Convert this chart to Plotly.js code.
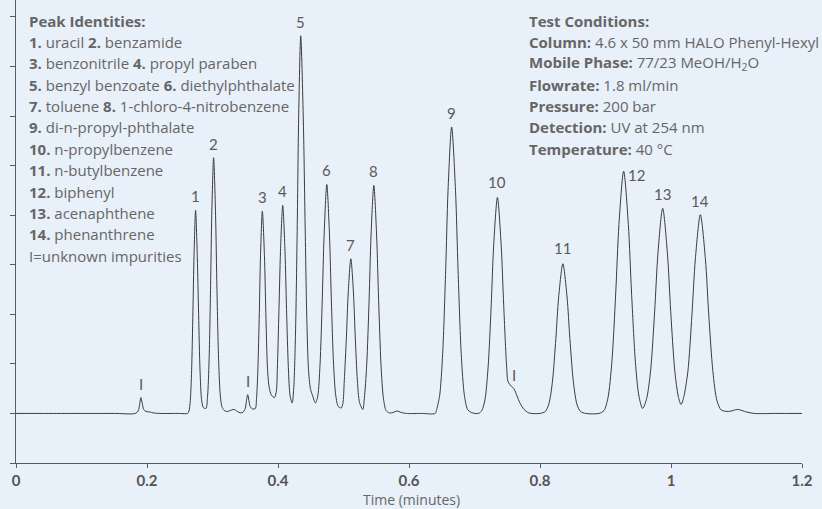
<!DOCTYPE html>
<html>
<head>
<meta charset="utf-8">
<script src="https://cdn.plot.ly/plotly-3.0.1.min.js"></script>
<style>
html,body{margin:0;padding:0;background:#e8f0f9;}
#chart{width:822px;height:509px;}
</style>
</head>
<body>
<div id="chart"></div>
<script>
// Chromatogram trace: time (minutes) and detector signal
var timeMin = [
0.000,0.050,0.100,0.150,0.182,
0.1865,0.1890,0.1907,0.1925,0.1950,0.1985,0.2040,0.2100,0.2200,0.2500,0.2620,
0.2641,0.2661,0.2681,0.2701,0.2718,0.2742,0.2768,0.2788,0.2810,0.2833,0.2860,0.2900,
0.2925,0.2948,0.2971,0.2989,0.3017,0.3047,0.3068,0.3094,0.3120,0.3148,0.3190,0.3230,0.3290,0.3330,0.3380,0.3430,
0.3470,0.3500,0.3518,0.3537,0.3556,0.3575,0.3610,0.3654,
0.3672,0.3692,0.3715,0.3733,0.3761,0.3793,0.3814,0.3840,0.3866,0.3900,0.3945,
0.3975,0.3990,0.4015,0.4038,0.4072,0.4107,0.4130,0.4158,0.4185,0.4216,
0.4240,0.4267,0.4294,0.4315,0.4347,0.4387,0.4414,0.4440,0.4465,0.4495,0.4530,0.4572,
0.4607,0.4641,0.4676,0.4704,0.4745,0.4786,0.4814,0.4849,0.4883,0.4920,0.4965,
0.4990,0.5012,0.5045,0.5072,0.5112,0.5152,0.5179,0.5212,0.5245,0.5295,
0.5318,0.5354,0.5391,0.5420,0.5463,0.5506,0.5536,0.5573,0.5610,0.5650,0.5700,0.5760,0.5817,0.5880,0.5960,0.6200,0.6400,
0.6422,0.6468,0.6514,0.6560,0.6596,0.6651,0.6710,0.6749,0.6797,0.6846,0.6895,0.6950,0.7060,
0.7111,0.7159,0.7207,0.7255,0.7293,0.7350,0.7407,0.7446,0.7490,0.7510,0.7540,0.7600,0.7650,0.7690,0.7757,0.7830,0.8000,
0.8081,0.8135,0.8189,0.8242,0.8285,0.8349,0.8413,0.8456,0.8510,0.8563,0.8617,0.8700,0.8900,
0.8977,0.9037,0.9097,0.9157,0.9205,0.9277,0.9349,0.9397,0.9457,0.9510,0.9567,
0.9628,0.9689,0.9751,0.9800,0.9873,0.9946,0.9995,1.0057,1.0110,1.0153,
1.0193,1.0257,1.0320,1.0372,1.0448,1.0525,1.0576,1.0640,1.0703,1.0767,1.0880,1.1020,1.1150,1.1270,1.1600,1.2000
];
var signal = [
1.00,1.00,1.00,1.00,1.00,
1.05,1.20,1.32,1.22,1.08,1.04,1.03,1.01,1.00,1.00,1.00,
1.05,1.26,1.86,3.05,4.19,5.10,4.15,3.00,1.85,1.28,1.12,1.10,
1.35,2.08,3.58,5.02,6.16,5.00,3.50,2.05,1.35,1.12,1.05,1.04,1.07,1.08,1.04,1.01,
1.03,1.10,1.25,1.38,1.26,1.14,1.09,1.10,
1.30,1.86,3.04,4.18,5.08,4.18,3.04,1.90,1.52,1.37,1.32,
1.45,1.90,3.10,4.27,5.20,4.27,3.10,1.93,1.35,1.21,
1.50,2.60,4.81,6.94,8.62,6.90,4.80,2.90,1.90,1.50,1.35,1.21,
1.35,1.97,3.31,4.60,5.62,4.60,3.31,1.97,1.35,1.14,1.11,
1.20,1.66,2.56,3.43,4.12,3.43,2.56,1.66,1.22,1.08,
1.30,1.97,3.30,4.58,5.60,4.58,3.30,1.97,1.30,1.06,1.01,1.02,1.05,1.02,1.00,1.00,1.00,
1.08,1.36,2.21,3.89,5.50,6.78,5.50,3.89,2.21,1.36,1.08,1.02,1.00,
1.06,1.27,1.92,3.18,4.40,5.36,4.40,3.18,1.95,1.65,1.58,1.50,1.35,1.22,1.08,1.01,1.00,
1.04,1.19,1.63,2.51,3.35,4.02,3.35,2.51,1.63,1.19,1.04,1.00,1.00,
1.06,1.31,2.03,3.45,4.81,5.89,4.81,3.45,2.03,1.35,1.10,
1.30,1.87,3.07,4.22,5.14,4.22,3.07,1.87,1.35,1.18,
1.32,1.84,3.00,4.12,5.01,4.12,3.00,1.84,1.25,1.07,1.04,1.08,1.03,1.00,1.00,1.00
];

// Peak labels (text, time of peak, signal at label anchor)
var peakLabels = ['I','1','2','I','3','4','5','6','7','8','9','10','I','11','12','13','14'];
var peakTimes  = [0.1907,0.2742,0.3017,0.3537,0.3761,0.4072,0.4347,0.4745,0.5112,0.5463,0.6651,0.7350,0.7600,0.8349,0.9277,0.9873,1.0448];
var peakTops   = [1.32,5.10,6.16,1.38,5.08,5.20,8.62,5.62,4.12,5.60,6.78,5.36,1.50,4.02,5.89,5.14,5.01];

// Axis tick values and labels
var xTickVals = [0,0.2,0.4,0.6,0.8,1.0,1.2];
var xTickText = ['0','0.2','0.4','0.6','0.8','1','1.2'];
var yTickVals = [0,1,2,3,4,5,6,7,8,9];

// Text blocks
var peakIdentities = [
  '<b>Peak Identities:</b>',
  '<b>1.</b> uracil <b>2.</b> benzamide',
  '<b>3.</b> benzonitrile <b>4.</b> propyl paraben',
  '<b>5.</b> benzyl benzoate <b>6.</b> diethylphthalate',
  '<b>7.</b> toluene <b>8.</b> 1-chloro-4-nitrobenzene',
  '<b>9.</b> di-n-propyl-phthalate',
  '<b>10.</b> n-propylbenzene',
  '<b>11.</b> n-butylbenzene',
  '<b>12.</b> biphenyl',
  '<b>13.</b> acenaphthene',
  '<b>14.</b> phenanthrene',
  'I=unknown impurities'
];
var testConditions = [
  '<b>Test Conditions:</b>',
  '<b>Column:</b> 4.6 x 50 mm HALO Phenyl-Hexyl',
  '<b>Mobile Phase:</b> 77/23 MeOH/H<sub>2</sub>O',
  '<b>Flowrate:</b> 1.8 ml/min',
  '<b>Pressure:</b> 200 bar',
  '<b>Detection:</b> UV at 254 nm',
  '<b>Temperature:</b> 40 °C'
];
var xAxisTitle = 'Time (minutes)';

var W = 822, H = 509;
var M = {l:16, r:20, t:0, b:46};
var plotW = W - M.l - M.r, plotH = H - M.t - M.b;
function pxX(px){ return (px - M.l) / plotW; }
function pxY(py){ return (H - M.b - py) / plotH; }

var FONT = '"Open Sans", Lato, sans-serif';
var LFONT = 'Lato, "Open Sans", sans-serif';
var annotations = [];

peakLabels.forEach(function(lbl, i){
  var a = {
    x: peakTimes[i], y: peakTops[i], xref:'x', yref:'y',
    text: lbl, showarrow:false,
    xanchor:'center', yanchor:'middle',
    yshift: 14,
    font:{family:LFONT, size:15, color:'#5a5a5a'}
  };
  if (lbl === '12') { a.xshift = 13; a.yshift = -4; }
  if (lbl === '11') { a.yshift = 16; }
  if (lbl === '10') { a.yshift = 15; }
  annotations.push(a);
});

var lineStep = 21.35;
peakIdentities.forEach(function(t, i){
  annotations.push({
    x: pxX(27), y: pxY(20.7 + i*lineStep), xref:'paper', yref:'paper',
    text: t, showarrow:false, xanchor:'left', yanchor:'middle', align:'left',
    font:{family:FONT, size:15, color:'#666666'}
  });
});
testConditions.forEach(function(t, i){
  annotations.push({
    x: pxX(527), y: pxY(20.7 + i*lineStep), xref:'paper', yref:'paper',
    text: t, showarrow:false, xanchor:'left', yanchor:'middle', align:'left',
    font:{family:FONT, size:15, color:'#666666'}
  });
});
// x-axis title placed precisely under the tick labels
annotations.push({
  x: pxX(411), y: pxY(499), xref:'paper', yref:'paper',
  text: xAxisTitle, showarrow:false, xanchor:'center', yanchor:'middle',
  font:{family:FONT, size:14, color:'#666666'}
});

var trace = {
  x: timeMin, y: signal, type:'scatter', mode:'lines',
  line:{color:'#3c3c3c', width:1, shape:'spline', smoothing:0.8},
  hoverinfo:'skip', showlegend:false
};

var layout = {
  width: W, height: H,
  margin: M,
  paper_bgcolor:'#e8f0f9', plot_bgcolor:'#e8f0f9',
  showlegend:false,
  xaxis:{
    range:[0,1.2], tickvals:xTickVals, ticktext:xTickText,
    showline:true, linecolor:'#5a5a5a', linewidth:1,
    ticks:'outside', ticklen:4, tickcolor:'#5a5a5a', tickwidth:1,
    showgrid:false, zeroline:false,
    tickfont:{family:LFONT, size:15, color:'#555555', weight:'bold'}
  },
  yaxis:{
    range:[0,9.342], tickvals:yTickVals, showticklabels:false,
    showline:true, linecolor:'#5a5a5a', linewidth:1,
    ticks:'outside', ticklen:5, tickcolor:'#5a5a5a', tickwidth:1,
    showgrid:false, zeroline:false
  },
  annotations: annotations
};

Plotly.newPlot('chart', [trace], layout, {displayModeBar:false, staticPlot:true});
</script>
</body>
</html>
